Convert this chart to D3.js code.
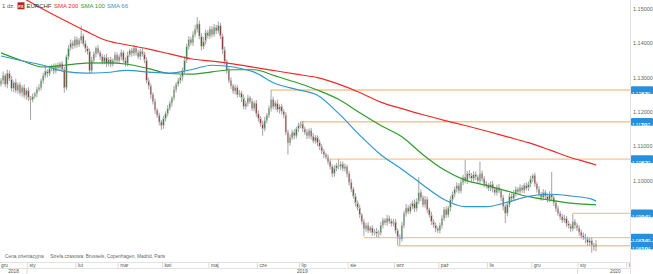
<!DOCTYPE html>
<html>
<head>
<meta charset="utf-8">
<script src="https://cdn.jsdelivr.net/npm/d3@7"></script>
<style>
  body { margin: 0; background: #fff; }
  svg { display: block; font-family: "Liberation Sans", Arial, sans-serif; }
</style>
</head>
<body>
<svg width="653" height="274"></svg>
<script>
// EURCHF daily candles, 13 Dec 2018 - 13 Jan 2020
const firstOpen = 1.1280;
const closes = [
  // gru 2018
  1.1290,1.1305,1.1280,1.1312,1.1295,1.1268,1.1285,1.1262,1.1278,1.1255,1.1270,1.1248,1.1262,
  // sty
  1.1240,1.1235,1.1245,1.1252,1.1265,1.1270,1.1290,1.1305,1.1318,1.1310,1.1325,1.1330,1.1318,1.1335,1.1328,1.1340,1.1322,1.1270,1.1360,1.1385,1.1400,1.1392,1.1410,
  // lut
  1.1395,1.1408,1.1420,1.1398,1.1385,1.1375,1.1320,1.1350,1.1368,1.1385,1.1372,1.1360,1.1345,1.1358,1.1340,1.1352,1.1338,1.1350,1.1365,1.1348,
  // mar
  1.1360,1.1372,1.1350,1.1340,1.1365,1.1378,1.1370,1.1385,1.1372,1.1360,1.1375,1.1368,1.1350,1.1290,1.1275,1.1250,1.1230,1.1205,1.1190,1.1170,1.1160,
  // kwi
  1.1180,1.1195,1.1210,1.1225,1.1240,1.1265,1.1280,1.1290,1.1300,1.1320,1.1350,1.1390,1.1410,1.1400,1.1425,1.1440,1.1455,1.1420,1.1390,1.1405,1.1430,1.1420,
  // maj
  1.1440,1.1425,1.1445,1.1435,1.1450,1.1420,1.1380,1.1345,1.1320,1.1290,1.1275,1.1260,1.1270,1.1250,1.1255,1.1240,1.1215,1.1225,1.1240,1.1230,1.1210,1.1225,1.1195,
  // cze
  1.1180,1.1165,1.1150,1.1175,1.1190,1.1210,1.1235,1.1215,1.1225,1.1205,1.1215,1.1200,1.1190,1.1140,1.1110,1.1125,1.1140,1.1130,1.1150,1.1160,
  // lip
  1.1165,1.1150,1.1140,1.1130,1.1145,1.1128,1.1115,1.1125,1.1110,1.1098,1.1085,1.1075,1.1068,1.1055,1.1040,1.1020,1.1035,1.1045,1.1040,1.1048,1.1035,1.1040,1.1020,
  // sie
  1.0995,1.0975,1.0955,1.0935,1.0920,1.0900,1.0880,1.0860,1.0870,1.0855,1.0862,1.0848,1.0852,1.0845,1.0848,1.0870,1.0885,1.0878,1.0890,1.0882,1.0875,1.0880,
  // wrz
  1.0855,1.0835,1.0830,1.0870,1.0905,1.0920,1.0910,1.0925,1.0935,1.0918,1.0940,1.0965,1.0950,1.0930,1.0945,1.0915,1.0900,1.0880,1.0870,1.0860,1.0855,
  // paz
  1.0870,1.0890,1.0915,1.0900,1.0920,1.0945,1.0960,1.0975,1.0985,1.0970,1.0995,1.1010,1.1000,1.1020,1.1015,1.1005,1.1018,1.1010,1.1000,1.1020,1.1005,1.0990,1.0985,
  // lis
  1.0978,1.0990,1.0975,1.0965,1.0980,1.0970,1.0950,1.0925,1.0905,1.0930,1.0955,1.0948,1.0962,1.0975,1.0968,1.0980,1.0972,1.0985,1.0978,1.0990,1.1005,
  // gru
  1.1015,1.0990,1.0975,1.0960,1.0950,1.0965,1.0955,1.0945,1.0960,1.0950,1.0935,1.0918,1.0905,1.0895,1.0885,1.0890,1.0875,1.0868,1.0860,1.0880,1.0870,1.0862,
  // sty 2020
  1.0850,1.0840,1.0835,1.0830,1.0820,1.0825,1.0812,1.0808,1.0815
];
// wick length above / below the body, in pips
const upWick = [
  8,12,6,10,7,9,5,11,6,8,7,10,6,
  9,6,8,5,7,10,6,8,12,5,9,7,10,6,8,5,7,9,6,8,10,7,9,
  8,6,30,7,9,6,8,10,7,5,9,6,8,7,10,6,8,5,9,7,
  7,9,6,8,10,5,7,9,6,8,7,10,6,8,9,7,6,8,5,7,6,
  8,6,9,7,5,10,6,8,7,9,11,8,10,7,9,12,20,10,8,12,9,7,
  9,8,10,7,12,8,6,9,7,8,10,6,9,7,8,6,10,7,9,6,8,7,9,
  8,7,9,10,6,8,28,9,7,10,6,8,7,9,8,10,7,9,6,8,
  6,8,7,9,6,8,10,7,6,9,8,7,6,8,7,7,9,6,17,8,7,9,6,
  7,9,6,8,7,10,6,8,7,9,6,8,7,10,8,9,7,6,10,8,7,9,
  8,6,9,10,7,12,8,9,7,10,8,45,9,7,10,8,6,9,7,8,6,
  7,9,8,10,6,9,8,7,10,8,9,7,50,8,10,7,9,8,6,35,9,7,8,
  8,7,9,6,8,10,7,8,6,9,8,7,10,8,6,9,7,8,10,7,9,
  5,8,7,9,6,10,8,7,9,65,8,7,9,6,8,10,7,8,6,24,8,7,
  8,7,9,10,6,8,9,7,12
];
const dnWick = [
  7,10,8,12,6,9,11,7,10,8,12,9,14,
  9,59,8,7,10,6,8,9,7,10,6,8,9,7,10,8,6,15,8,9,7,10,8,
  9,7,10,8,12,9,10,7,8,10,6,9,8,7,10,8,9,7,10,8,
  8,10,7,9,8,6,10,8,9,7,10,8,9,7,10,12,9,11,8,10,13,
  10,8,9,7,10,8,9,7,8,10,9,8,10,7,9,8,10,9,12,8,10,7,
  8,9,7,10,8,9,12,8,10,7,9,8,10,9,7,12,8,9,10,7,8,9,10,
  9,8,20,7,9,8,10,8,9,7,10,8,9,8,35,9,7,10,8,9,
  8,9,7,10,8,9,7,8,10,9,8,10,7,9,8,10,9,8,7,10,8,9,10,
  10,9,8,10,7,9,8,22,9,8,7,9,8,10,11,8,9,7,10,8,9,8,
  9,23,18,8,9,10,8,7,9,10,8,9,10,8,9,10,8,9,7,10,8,
  9,10,8,9,7,10,8,9,10,8,7,9,8,10,9,8,7,9,10,8,9,10,8,
  8,9,10,8,9,7,10,12,29,9,8,10,7,9,8,10,8,9,7,8,9,
  9,8,10,7,9,8,10,9,7,8,10,9,8,10,9,8,10,7,9,8,10,9,
  10,9,8,12,9,10,22,12,14
];

// moving averages, every 10th candle
const smaIdx = [0,10,20,30,40,50,60,70,80,90,100,110,120,130,140,150,160,170,180,190,200,210,220,230,240,250,260,270,280,282];
const sma200 = [1.1568,1.1532,1.1498,1.1466,1.1435,1.1407,1.1394,1.1382,1.1368,1.1354,1.1347,1.1339,1.1329,1.1319,1.1309,1.1299,1.1280,1.1256,1.1228,1.1209,1.1191,1.1175,1.1160,1.1144,1.1127,1.1110,1.1089,1.1067,1.1049,1.1045];
const sma100 = [1.1371,1.1348,1.1330,1.1335,1.1341,1.1342,1.1338,1.1325,1.1311,1.1309,1.1316,1.1322,1.1322,1.1304,1.1285,1.1263,1.1236,1.1197,1.1160,1.1127,1.1075,1.1031,1.1001,1.0986,1.0969,1.0953,1.0943,1.0934,1.0930,1.0929];
const sma66 = [1.1362,1.1348,1.1335,1.1317,1.1312,1.1314,1.1320,1.1315,1.1312,1.1322,1.1335,1.1330,1.1315,1.1282,1.1265,1.1248,1.1195,1.1132,1.1075,1.1033,1.0987,1.0945,1.0924,1.0924,1.0937,1.0954,1.0960,1.0955,1.0946,1.0940];

// horizontal support / resistance levels and the candle they start from
const levels = [1.12630, 1.11707, 1.10622, 1.09043, 1.08340, 1.08104];
const levelFrom = [128, 142, 156, 271, 172, 188];

const yTicks = [1.15, 1.14, 1.13, 1.12, 1.11, 1.10];
const monthNames = ["sty","lut","mar","kwi","maj","cze","lip","sie","wrz","paź","lis","gru"];

const svg = d3.select("svg");
const plotR = 630, axisTop = 262;

// trading days (weekdays)
const axisDays = d3.timeDay.range(new Date(2018, 11, 13), new Date(2020, 1, 5))
  .filter(d => d.getDay() % 6 !== 0);
const days = axisDays.slice(0, closes.length);

const x = d3.scaleLinear().domain([0, 282]).range([1, 596]);
const y = d3.scaleLinear().domain([1.15, 1.10]).range([8.5, 180.5]);

const data = closes.map((c, i) => {
  const o = i ? closes[i - 1] : firstOpen;
  return {
    i, o, c,
    h: Math.max(o, c) + upWick[i] / 10000,
    l: Math.min(o, c) - dnWick[i] / 10000
  };
});

const defs = svg.append("defs");
defs.append("clipPath").attr("id", "plotClip")
  .append("rect").attr("width", plotR).attr("height", axisTop);
defs.append("clipPath").attr("id", "axisClip")
  .append("rect").attr("y", -2).attr("width", plotR).attr("height", 20);

const plot = svg.append("g").attr("clip-path", "url(#plotClip)");

// level lines
plot.selectAll(".level")
  .data(levels)
  .enter().append("line")
  .attr("x1", (d, k) => x(levelFrom[k]))
  .attr("x2", plotR)
  .attr("y1", d => y(d))
  .attr("y2", d => y(d))
  .attr("stroke", "#ffc48a")
  .attr("stroke-width", 1.4);

// candles
const candle = plot.selectAll(".candle")
  .data(data)
  .enter().append("g")
  .attr("class", "candle");

candle.append("line")
  .attr("x1", d => x(d.i)).attr("x2", d => x(d.i))
  .attr("y1", d => y(d.h)).attr("y2", d => y(d.l))
  .attr("stroke", "#7d7d7d")
  .attr("stroke-width", 0.7);

candle.append("rect")
  .attr("x", d => x(d.i) - 0.7)
  .attr("width", 1.4)
  .attr("y", d => y(Math.max(d.o, d.c)))
  .attr("height", d => Math.max(1, Math.abs(y(d.o) - y(d.c))))
  .attr("fill", d => d.c >= d.o ? "#23702a" : "#7a2424")
  .attr("stroke", "#c4c4c4")
  .attr("stroke-width", 0.6);

// moving averages
const line = d3.line()
  .x((d, k) => x(smaIdx[k]))
  .y(d => y(d))
  .curve(d3.curveMonotoneX);

[[sma200, "#ee2a2a"], [sma100, "#2e9b2e"], [sma66, "#2f98cc"]].forEach(([s, col]) => {
  plot.append("path")
    .attr("d", line(s))
    .attr("fill", "none")
    .attr("stroke", col)
    .attr("stroke-width", 1.2);
});

// right price axis
svg.append("line")
  .attr("x1", plotR + 0.5).attr("x2", plotR + 0.5)
  .attr("y1", 0).attr("y2", 274)
  .attr("stroke", "#e2e2e2");

const yAxis = svg.append("g")
  .attr("transform", `translate(${plotR},0)`)
  .call(d3.axisRight(y).tickValues(yTicks).tickSize(0).tickPadding(3).tickFormat(d3.format(".5f")));
yAxis.select(".domain").remove();
yAxis.selectAll("text")
  .attr("fill", "#666")
  .style("font-size", "5.5px")
  .style("font-family", "'Liberation Sans', Arial, sans-serif");

// level price tags
const tag = svg.selectAll(".tag")
  .data(levels)
  .enter().append("g")
  .attr("transform", d => `translate(${plotR + 1},${y(d)})`);

tag.append("rect")
  .attr("x", 0).attr("y", -3.9)
  .attr("width", 22).attr("height", 7.8)
  .attr("rx", 1)
  .attr("fill", "#2a8fdb");

const tagText = tag.append("text")
  .attr("x", 1).attr("y", 0)
  .attr("dy", "0.35em")
  .attr("fill", "#fff");
tagText.append("tspan").style("font-size", "4.6px")
  .text(d => d.toFixed(5).replace(".", ",").slice(0, 4));
tagText.append("tspan").style("font-size", "6.2px").style("font-weight", "bold")
  .text(d => d.toFixed(5).slice(4, 6));
tagText.append("tspan").style("font-size", "4.6px")
  .text(d => d.toFixed(5).slice(6));

// time axis
svg.append("line").attr("x1", 0).attr("x2", plotR).attr("y1", axisTop + 0.5).attr("y2", axisTop + 0.5).attr("stroke", "#e2e2e2");
svg.append("line").attr("x1", 0).attr("x2", plotR).attr("y1", 268.5).attr("y2", 268.5).attr("stroke", "#e2e2e2");

const xA = d3.scaleLinear().domain([0, 282]).range([1, 596]);
const monthStarts = d3.range(1, axisDays.length)
  .filter(i => axisDays[i].getMonth() !== axisDays[i - 1].getMonth());

const xAxis = svg.append("g")
  .attr("transform", `translate(0,${axisTop})`)
  .attr("clip-path", "url(#axisClip)")
  .call(d3.axisBottom(xA).tickValues(monthStarts).tickSize(6).tickPadding(0)
    .tickFormat(i => monthNames[axisDays[i].getMonth()]));
xAxis.select(".domain").remove();
xAxis.selectAll(".tick line").attr("stroke", "#dcdcdc").attr("transform", "translate(-1.5,0)");
xAxis.selectAll(".tick text")
  .attr("text-anchor", "start")
  .attr("x", 0.5).attr("y", 1).attr("dy", "0.75em")
  .attr("fill", "#555")
  .style("font-size", "4.8px")
  .style("font-family", "'Liberation Sans', Arial, sans-serif");

svg.append("text")
  .attr("x", 1).attr("y", axisTop + 1).attr("dy", "0.75em")
  .attr("fill", "#555").style("font-size", "4.8px")
  .text(monthNames[days[0].getMonth()]);

// years row
const yearStarts = monthStarts.filter(i => axisDays[i].getMonth() === 0);
const yearBounds = [0, ...yearStarts.map(i => xA(i) - 1.5), 653];
yearStarts.forEach(i => {
  svg.append("line")
    .attr("x1", xA(i) - 1.5).attr("x2", xA(i) - 1.5)
    .attr("y1", 268.5).attr("y2", 274)
    .attr("stroke", "#dcdcdc");
});
const years = [days[0].getFullYear(), ...yearStarts.map(i => axisDays[i].getFullYear())];
years.forEach((yr, k) => {
  svg.append("text")
    .attr("x", (yearBounds[k] + yearBounds[k + 1]) / 2)
    .attr("y", 272.8)
    .attr("text-anchor", "middle")
    .attr("fill", "#555")
    .style("font-size", "4.8px")
    .text(yr);
});

// footer note
svg.append("text")
  .attr("x", 5).attr("y", 257.8)
  .attr("fill", "#666")
  .style("font-size", "4.8px")
  .attr("xml:space", "preserve")
  .text("Cena orientacyjna     Strefa czasowa: Brussels, Copenhagen, Madrid, Paris");

// legend
const legend = svg.append("g").style("font-size", "6px");
legend.append("text").attr("x", 2).attr("y", 8.3).attr("fill", "#555").text("1 dz.");
legend.append("rect").attr("x", 17.5).attr("y", 2.3).attr("width", 7).attr("height", 7).attr("fill", "#b4271f");
legend.append("text").attr("x", 21).attr("y", 7.6).attr("text-anchor", "middle")
  .attr("fill", "#fff").style("font-size", "4.2px").style("font-weight", "bold").text("FX");
legend.append("text").attr("x", 26.5).attr("y", 8.3).attr("fill", "#333").text("EURCHF");
legend.append("text").attr("x", 54).attr("y", 8.3).attr("fill", "#ee2a2a").text("SMA 200");
legend.append("text").attr("x", 80.5).attr("y", 8.3).attr("fill", "#2e9b2e").text("SMA 100");
legend.append("text").attr("x", 107).attr("y", 8.3).attr("fill", "#2f98cc").text("SMA 66");
</script>
</body>
</html>
